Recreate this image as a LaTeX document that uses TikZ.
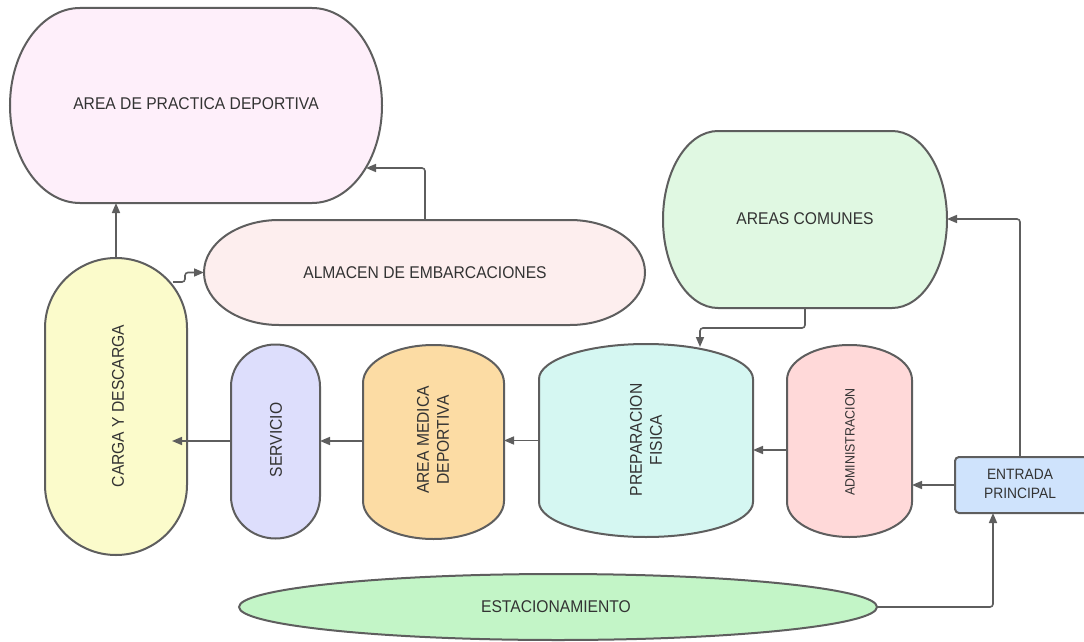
\documentclass[tikz,border=0pt]{standalone}
\usepackage{fontspec}
\setmainfont{Liberation Sans}[FakeStretch=0.92]
\usetikzlibrary{arrows.meta,calc}
\definecolor{strokec}{HTML}{5E5E5E}
\definecolor{txtc}{HTML}{333333}
\definecolor{cPract}{HTML}{FEEFFA}
\definecolor{cAlm}{HTML}{FDEEEE}
\definecolor{cCarga}{HTML}{FBFBCB}
\definecolor{cServ}{HTML}{DDDEFC}
\definecolor{cMed}{HTML}{FCDCA4}
\definecolor{cPrep}{HTML}{D5F7F2}
\definecolor{cAdm}{HTML}{FFD9D9}
\definecolor{cCom}{HTML}{E0F8E2}
\definecolor{cEnt}{HTML}{CFE3FC}
\definecolor{cEst}{HTML}{C3F5C7}
\tikzset{
  shp/.style={draw=strokec, line width=2pt},
  txt/.style={text=txtc, font=\fontsize{17}{20}\selectfont, align=center, inner sep=0pt},
  smalltxt/.style={text=txtc, font=\fontsize{13.5}{16}\selectfont, align=center, inner sep=0pt},
  conn/.style={draw=strokec, line width=1.6pt, rounded corners=3pt, -{Triangle[length=10pt,width=8pt]}},
  anchorbox/.style={rectangle, inner sep=0pt, outer sep=0pt}
}
% #1 name, #2 cx, #3 cy, #4 half width, #5 half height, #6 rx, #7 ry, #8 fill
\newcommand\capsule[8]{%
  \draw[shp, fill=#8] ({#2-#4+#6},{#3-#5}) -- ({#2+#4-#6},{#3-#5})
    arc[start angle=90,end angle=0,x radius=#6pt,y radius=#7pt]
    -- ({#2+#4},{#3+#5-#7})
    arc[start angle=0,end angle=-90,x radius=#6pt,y radius=#7pt]
    -- ({#2-#4+#6},{#3+#5})
    arc[start angle=270,end angle=180,x radius=#6pt,y radius=#7pt]
    -- ({#2-#4},{#3-#5+#7})
    arc[start angle=180,end angle=90,x radius=#6pt,y radius=#7pt]
    -- cycle;
  \node[anchorbox, minimum width={2*#4pt}, minimum height={2*#5pt}] (#1) at (#2,#3) {};%
}
\begin{document}
\begin{tikzpicture}[x=1pt,y=-1pt]
\useasboundingbox[fill=white] (0,0) rectangle (1084,642);

\capsule{pract}{196}{105.5}{186}{97.5}{70}{97.5}{cPract}
\capsule{alm}{424.5}{272.5}{220.5}{52.5}{75}{52.5}{cAlm}
\capsule{carga}{116}{406.5}{71}{148.5}{71}{70}{cCarga}
\capsule{serv}{275.5}{441.5}{44.5}{97}{44.5}{42}{cServ}
\capsule{med}{433.5}{442}{70.5}{97}{70.5}{38}{cMed}
\capsule{prep}{646}{440.5}{107}{96.5}{107}{35}{cPrep}
\capsule{adm}{849.5}{441}{62.5}{96}{62.5}{35}{cAdm}
\capsule{com}{805}{219.5}{142}{88.5}{55}{88.5}{cCom}

\draw[shp, fill=cEnt, rounded corners=4pt] (955,457) rectangle (1092,513);
\node[anchorbox, minimum width=137pt, minimum height=56pt] (ent) at (1023.5,485) {};
\draw[shp, fill=cEst] (558,607) ellipse[x radius=319pt, y radius=33pt];
\node[anchorbox, minimum width=638pt, minimum height=66pt] (est) at (558,607) {};

% texts
\node[txt] (tPract) at (196,104) {AREA DE PRACTICA DEPORTIVA};
\node[txt] (tAlm) at (425,273) {ALMACEN DE EMBARCACIONES};
\node[txt] (tCom) at (805,219) {AREAS COMUNES};
\node[txt, rotate=90] (tCarga) at (118,406) {CARGA Y DESCARGA};
\node[txt, rotate=90] (tServ) at (276,440) {SERVICIO};
\node[txt, rotate=90] (tMed) at (433,440) {AREA MEDICA\\DEPORTIVA};
\node[txt, rotate=90] (tPrep) at (646,440) {PREPARACION\\FISICA};
\node[smalltxt, rotate=90] (tAdm) at (850,442) {ADMINISTRACION};
\node[txt, font=\fontsize{15}{19}\selectfont] (tEnt) at (1020,484) {ENTRADA\\PRINCIPAL};
\node[txt] (tEst) at (556,607) {ESTACIONAMIENTO};

% connectors
\coordinate (cgOut) at (173,282);
\coordinate (prIn) at (366,168);
\coordinate (prepIn) at (700,347);
\coordinate (cgIn) at (172,441);
\coordinate (entIn) at (993,513);

\draw[conn] (carga.north) -- (carga.north |- pract.south);
\draw[conn] (cgOut) -- (185,282) -- (185,272.5) -- (alm.west);
\draw[conn] (alm.north -| 425,0) -- (425,168) -- (prIn);
\draw[conn] (com.south) -- (805,328) -- (700,328) -- (prepIn);
\draw[conn] (ent.north -| 1020,0) -- (1020,219) -- (com.east |- 0,219);
\draw[conn] (ent.west) -- (ent.west -| adm.east);
\draw[conn] ([yshift=-9pt]adm.west) -- ([yshift=-9pt]adm.west -| prep.east);
\draw[conn] (prep.west) -- (prep.west -| med.east);
\draw[conn] (med.west |- 0,441) -- (serv.east |- 0,441);
\draw[conn] (serv.west |- 0,441) -- (cgIn);
\draw[conn] (est.east) -| (entIn);
\end{tikzpicture}
\end{document}
